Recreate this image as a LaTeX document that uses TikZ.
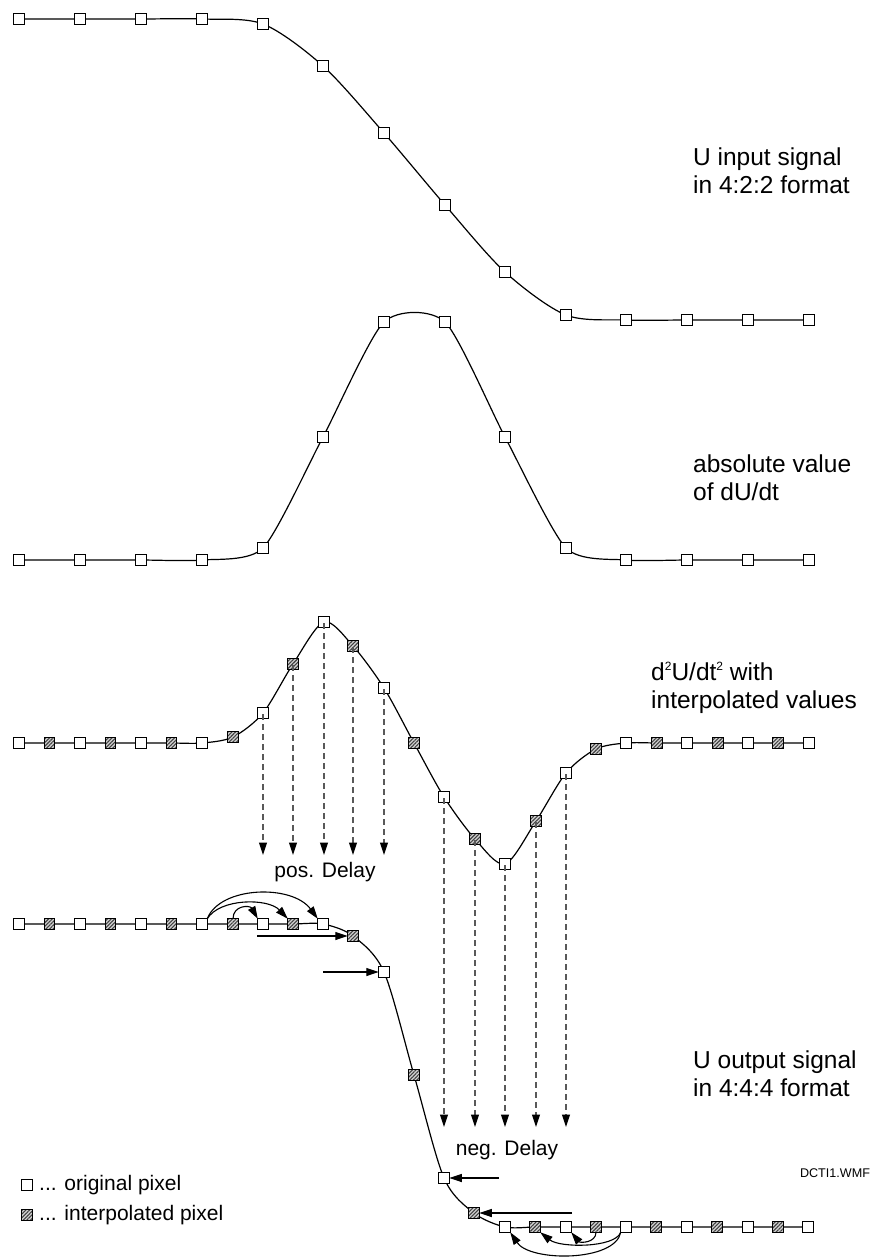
\documentclass[tikz,border=0pt]{standalone}
\usepackage{fontspec}
\setmainfont{Liberation Sans}
\usetikzlibrary{arrows.meta,backgrounds,patterns.meta}
\newcommand{\supsm}[1]{\raisebox{0.42em}{\fontsize{12}{12}\selectfont #1}}
\begin{document}
\begin{tikzpicture}[x=1pt,y=-1pt,
  sq/.style={draw=black,line width=1.3pt,minimum size=10.5pt,inner sep=0pt,outer sep=0pt,rectangle},
  orig/.style={sq,fill=white},
  interp/.style={sq,preaction={fill=gray!35},pattern={Lines[angle=45,distance=2.6pt,line width=1.1pt]},pattern color=black!75},
  sig/.style={line width=1.2pt},
  dly/.style={draw=black!65,line width=1.1pt,dash pattern=on 6pt off 4pt,-{Triangle[length=12.5pt,width=8pt,color=black]}},
  arr/.style={line width=1.1pt,-{Triangle[length=12.5pt,width=8pt]}},
  big/.style={font=\fontsize{24.5}{28}\selectfont,align=left,anchor=west,inner sep=0pt},
  mid/.style={font=\fontsize{21}{24}\selectfont,inner sep=0pt},
  small/.style={font=\fontsize{12.6}{14}\selectfont,inner sep=0pt}
]
\useasboundingbox (0,0) rectangle (871,1258);

% graph 1
\foreach \x/\y [count=\i] in {19/19,80/19,141/19,202/19,263/24,323/66,384/133,445/205,505/272,566/315,626/320,687/320,748/320,809/320}
  \node[orig] (a\i) at (\x,\y) {};
% graph 2
\foreach \x/\y [count=\i] in {19/560,80/560,141/560,202/560,263/548,323/437,384/322,445/322,505/437,566/548,626/560,687/560,748/560,809/560}
  \node[orig] (b\i) at (\x,\y) {};
% graph 3
\foreach \x/\y [count=\i] in {19/743,49.5/743,80/743,110.5/743,141/743,171.5/743,202/743,233/737,263/713,293/664,324/622,353/646,384/688,414/743,444/797,475/839,505/864,536/821,566/773,596/749,626/743,657/743,687/743,718/743,748/743,778/743,809/743}
  {\ifodd\i \node[orig] (c\i) at (\x,\y) {}; \else \node[interp] (c\i) at (\x,\y) {}; \fi}
% graph 4
\foreach \x/\y [count=\i] in {19/924,49.5/924,80/924,110.5/924,141/924,171.5/924,202/924,233/924,263/924,293/924,323/924,353/936,384/972,414/1075,444/1178,474/1213,505/1227,535/1227,566/1227,596/1227,626/1227,656/1227,687/1227,717/1227,748/1227,778/1227,808/1227}
  {\ifodd\i \node[orig] (d\i) at (\x,\y) {}; \else \node[interp] (d\i) at (\x,\y) {}; \fi}

\begin{scope}[on background layer]
\draw[sig] plot[smooth,tension=0.5] coordinates {(a1) (a2) (a3) (a4) (a5) (a6) (a7) (a8) (a9) (a10) (a11) (a12) (a13) (a14)};
\draw[sig] plot[smooth,tension=0.4] coordinates {(b1) (b2) (b3) (b4) (b5) (b6) (b7) (b8) (b9) (b10) (b11) (b12) (b13) (b14)};
\draw[sig] plot[smooth,tension=0.5] coordinates {(c1) (c2) (c3) (c4) (c5) (c6) (c7) (c8) (c9) (c10) (c11) (c12) (c13) (c14) (c15) (c16) (c17) (c18) (c19) (c20) (c21) (c22) (c23) (c24) (c25) (c26) (c27)};
\draw[sig] plot[smooth,tension=0.5] coordinates {(d1) (d2) (d3) (d4) (d5) (d6) (d7) (d8) (d9) (d10) (d11) (d12) (d13) (d14) (d15) (d16) (d17) (d18) (d19) (d20) (d21) (d22) (d23) (d24) (d25) (d26) (d27)};
\end{scope}

% delay arrows
\coordinate (pend) at (0,855);
\coordinate (nend) at (0,1127);
\foreach \i in {9,...,13} \draw[dly] ([yshift=4pt]c\i.south) -- (c\i |- pend);
\foreach \i in {15,...,19} \draw[dly] ([yshift=4pt]c\i.south) -- (c\i |- nend);

% straight arrows
\coordinate (s1) at (257,936);
\coordinate (s2) at (323,972);
\coordinate (s3) at (499,1178);
\coordinate (s4) at (572,1213);
\draw[arr] (s1) -- (d12.west);
\draw[arr] (s2) -- (d13.west);
\draw[arr] (s3) -- (d15.east);
\draw[arr] (s4) -- (d16.east);

% curved arrows
\draw[arr] (d7.north east) .. controls (220,886) and (292,884) .. (d11.north west);
\draw[arr] (d7.north east) .. controls (220,898) and (268,898) .. (d10.north west);
\draw[arr] (d8.north) .. controls (233,905) and (250,905) .. (d9.north west);
\draw[arr] (d21.south west) .. controls (615,1262) and (530,1262) .. (d17.south east);
\draw[arr] (d21.south west) .. controls (615,1248) and (560,1248) .. (d18.south east);
\draw[arr] (d20.south) .. controls (596,1243) and (580,1243) .. (d19.south east);

% labels
\node[big] (t1) at (693,171) {U input signal\\in 4:2:2 format};
\node[big] (t2) at (693,478) {absolute value\\of dU/dt};
\node[big] (t3) at (651,688) {d\supsm{2}U/dt\supsm{2} with\\interpolated values};
\node[big] (t4) at (693,1074) {U output signal\\in 4:4:4 format};
\node[mid] (pd) at (325,872) {pos. Delay};
\node[mid] (nd) at (507,1150) {neg. Delay};
\node[small] (fn) at (835,1173) {DCTI1.WMF};

% legend
\node[orig] (l1) at (27,1185) {};
\node[interp] (l2) at (27,1215) {};
\node[mid,anchor=west] (lt1) at (39,1185) {... original pixel};
\node[mid,anchor=west] (lt2) at (39,1215) {... interpolated pixel};
\end{tikzpicture}
\end{document}
